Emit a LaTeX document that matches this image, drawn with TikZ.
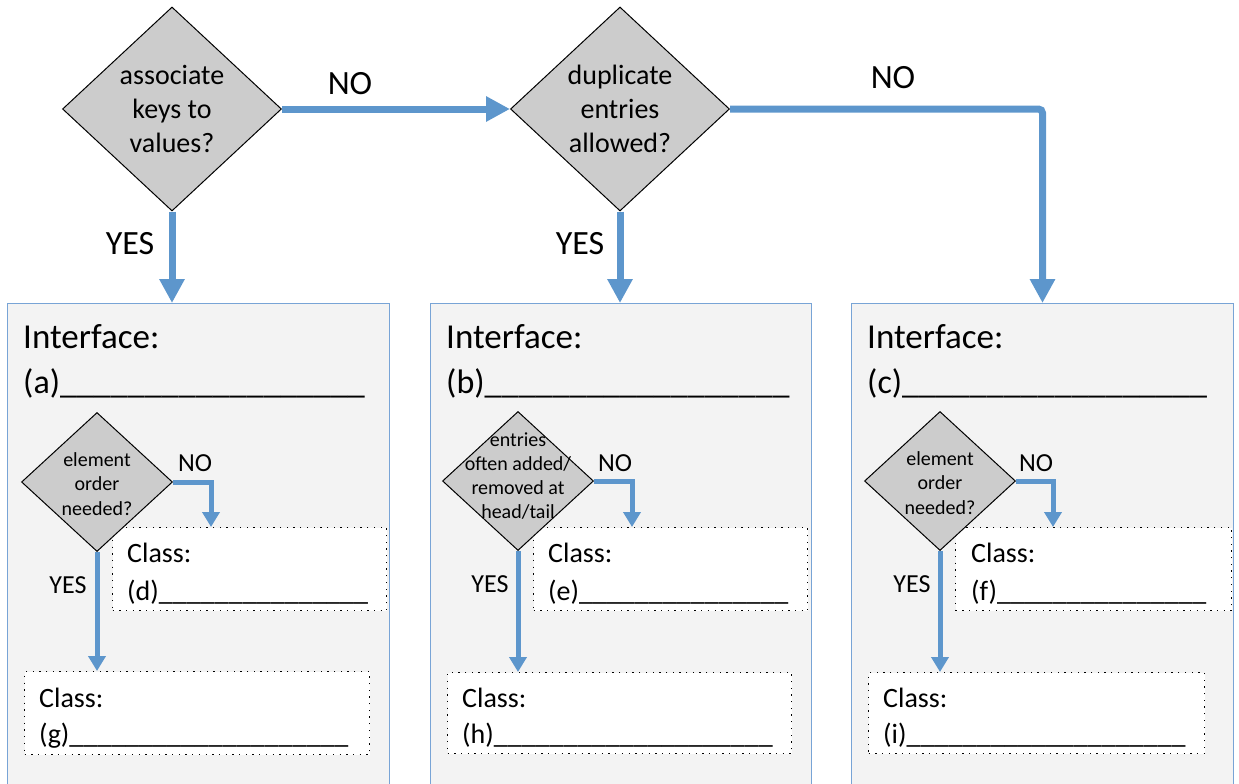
\documentclass[tikz,border=0pt]{standalone}
\usepackage{fontspec}
\setmainfont{Carlito}
\usetikzlibrary{shapes.geometric,arrows.meta}
\definecolor{arrblue}{RGB}{93,150,204}
\definecolor{boxline}{RGB}{120,164,214}
\definecolor{boxfill}{RGB}{243,243,243}
\definecolor{dgray}{RGB}{204,204,204}
\tikzset{
  bigq/.style={diamond,draw=black,line width=1pt,fill=dgray,inner sep=0pt,minimum width=219pt,minimum height=204pt,aspect=1},
  smallq/.style={diamond,draw=black,line width=1pt,fill=dgray,inner sep=0pt,minimum width=151pt,minimum height=139pt,aspect=1},
  qtext/.style={align=center,inner sep=0pt,font=\fontsize{28}{34}\selectfont},
  sqtext/.style={align=center,inner sep=0pt,font=\fontsize{20}{24.3}\selectfont},
  ifbox/.style={rectangle,draw=boxline,line width=1pt,fill=boxfill,anchor=north west,inner sep=0pt},
  clsbox/.style={rectangle,draw=black,line width=1.3pt,dash pattern=on 1.3pt off 5.4pt,fill=white,anchor=north west,inner sep=0pt},
  arr/.style={draw=arrblue,line width=7pt,-{Triangle[length=24pt,width=24pt]}},
  sarr/.style={draw=arrblue,line width=5pt,-{Triangle[length=15pt,width=17pt]}},
  biglbl/.style={inner sep=0pt,font=\fontsize{34}{40}\selectfont},
  smlbl/.style={inner sep=0pt,font=\fontsize{26}{30}\selectfont},
  iftext/.style={anchor=base west,inner sep=0pt,font=\fontsize{35}{42}\selectfont},
  ifline/.style={anchor=base west,inner sep=0pt,font=\fontsize{34}{42}\selectfont},
  cltext/.style={anchor=base west,inner sep=0pt,font=\fontsize{28}{34}\selectfont},
}
\begin{document}
\begin{tikzpicture}[x=1pt,y=-1pt]
\useasboundingbox (0,0) rectangle (1239,784);
% interface boxes
\node[ifbox,minimum width=382pt,minimum height=484pt] (A) at (7,303) {};
\node[ifbox,minimum width=381pt,minimum height=484pt] (B) at (430,303) {};
\node[ifbox,minimum width=382pt,minimum height=484pt] (C) at (851,303) {};
% top diamonds
\node[bigq] (q1) at (172,109) {};
\node[qtext] (q1t) at (q1.center) {associate\\keys to\\values?};
\node[bigq] (q2) at (620,109) {};
\node[qtext] (q2t) at (q2.center) {duplicate\\entries\\allowed?};
% top arrows
\draw[arr] (q1.east) -- (q2.west);
\draw[arr] (q1.south) -- (q1.south |- A.north);
\draw[arr] (q2.south) -- (q2.south |- B.north);
\draw[arr,rounded corners=4pt] (q2.east) -| (C.north);
\node[biglbl] (no1) at (350,84) {NO};
\node[biglbl] (yes1) at (130,244) {YES};
\node[biglbl] (yes2) at (580,244) {YES};
\node[biglbl] (no2) at (893,78) {NO};
% interface texts
\node[iftext] (ia1) at (23,348) {Interface:};
\node[ifline] (ia2) at (23,393) {(a)\_\_\_\_\_\_\_\_\_\_\_\_\_\_\_\_\_\_};
\node[iftext] (ib1) at (446,348) {Interface:};
\node[ifline] (ib2) at (446,393) {(b)\_\_\_\_\_\_\_\_\_\_\_\_\_\_\_\_\_\_};
\node[iftext] (ic1) at (867,348) {Interface:};
\node[ifline] (ic2) at (867,393) {(c)\_\_\_\_\_\_\_\_\_\_\_\_\_\_\_\_\_\_};
% class boxes
\node[clsbox,minimum width=274pt,minimum height=83pt] (D) at (112,527) {};
\node[clsbox,minimum width=345pt,minimum height=83pt] (G) at (24,671) {};
\node[clsbox,minimum width=274pt,minimum height=83pt] (E) at (533,527) {};
\node[clsbox,minimum width=344pt,minimum height=81pt] (H) at (447,672) {};
\node[clsbox,minimum width=276pt,minimum height=83pt] (F) at (955,527) {};
\node[clsbox,minimum width=336pt,minimum height=81pt] (I) at (868,672) {};
% small diamonds
\node[smallq] (s1) at (97,482) {};
\node[sqtext] (s1t) at (97,484) {element\\order\\needed?};
\node[smallq] (s2) at (518,481) {};
\node[sqtext] (s2t) at (518,476) {entries\\often added/\\removed at\\head/tail};
\node[smallq] (s3) at (940,481) {};
\node[sqtext] (s3t) at (940,483) {element\\order\\needed?};
% small arrows
\draw[sarr] (s1.east) -| ([xshift=38pt]s1.east |- D.north);
\draw[sarr] (s1.south) -- (s1.south |- G.north);
\draw[sarr] (s2.east) -| ([xshift=38pt]s2.east |- E.north);
\draw[sarr] (s2.south) -- (s2.south |- H.north);
\draw[sarr] (s3.east) -| ([xshift=37pt]s3.east |- F.north);
\draw[sarr] (s3.south) -- (s3.south |- I.north);
\node[smlbl] (sno1) at (195,463) {NO};
\node[smlbl] (syes1) at (68,585) {YES};
\node[smlbl] (sno2) at (615,463) {NO};
\node[smlbl] (syes2) at (490,584) {YES};
\node[smlbl] (sno3) at (1036,463) {NO};
\node[smlbl] (syes3) at (912,584) {YES};
% class texts
\node[cltext] (d1) at (127,562) {Class:};
\node[cltext] (d2) at (127,600) {(d)\_\_\_\_\_\_\_\_\_\_\_\_\_\_\_};
\node[cltext] (g1) at (39,707) {Class:};
\node[cltext] (g2) at (39,743) {(g)\_\_\_\_\_\_\_\_\_\_\_\_\_\_\_\_\_\_\_\_};
\node[cltext] (e1) at (548,562) {Class:};
\node[cltext] (e2) at (548,600) {(e)\_\_\_\_\_\_\_\_\_\_\_\_\_\_\_};
\node[cltext] (h1) at (462,707) {Class:};
\node[cltext] (h2) at (462,743) {(h)\_\_\_\_\_\_\_\_\_\_\_\_\_\_\_\_\_\_\_\_};
\node[cltext] (f1) at (971,562) {Class:};
\node[cltext] (f2) at (971,600) {(f)\_\_\_\_\_\_\_\_\_\_\_\_\_\_\_};
\node[cltext] (i1) at (883,707) {Class:};
\node[cltext] (i2) at (883,743) {(i)\_\_\_\_\_\_\_\_\_\_\_\_\_\_\_\_\_\_\_\_};
\end{tikzpicture}
\end{document}
